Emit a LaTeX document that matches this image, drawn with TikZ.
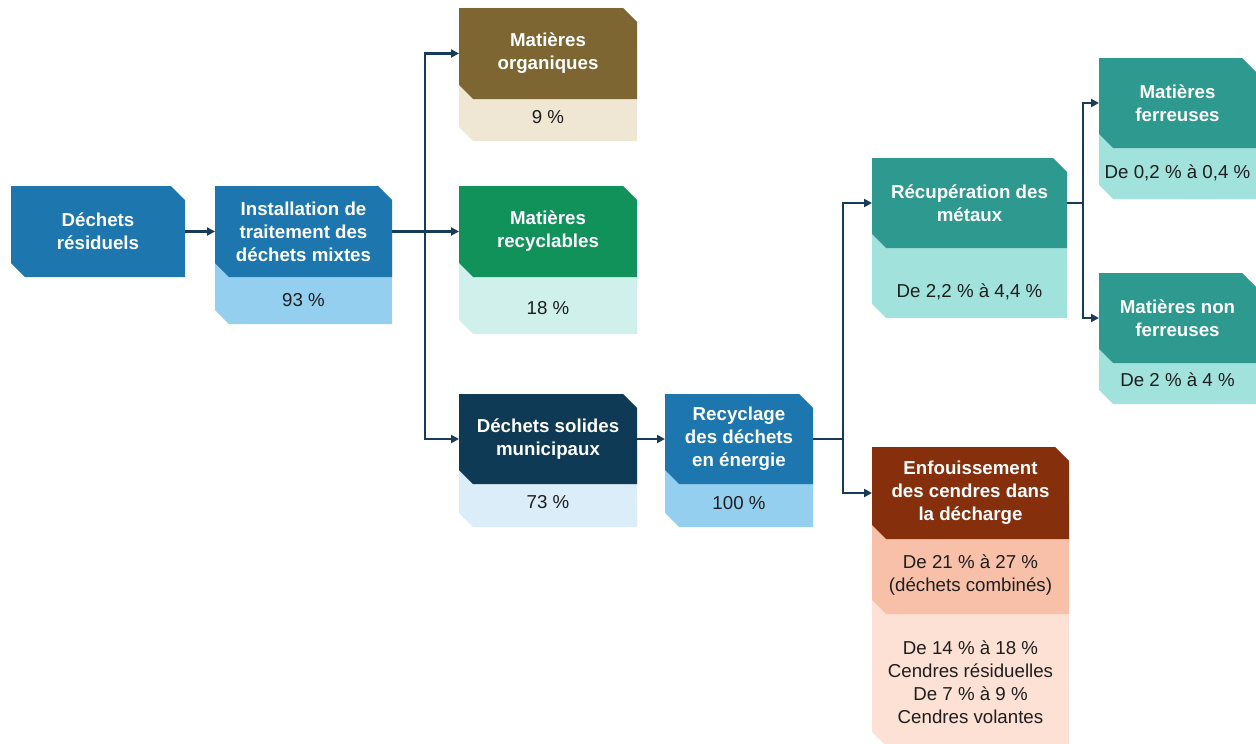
\documentclass[tikz,border=0pt]{standalone}
\usepackage{fontspec}
\setmainfont{Liberation Sans}
\usetikzlibrary{arrows.meta}
\definecolor{cblue}{RGB}{29,119,174}
\definecolor{cbluel}{RGB}{148,207,240}
\definecolor{colive}{RGB}{125,102,50}
\definecolor{colivel}{RGB}{239,230,212}
\definecolor{cgreen}{RGB}{17,146,91}
\definecolor{cgreenl}{RGB}{208,240,236}
\definecolor{cnavy}{RGB}{14,58,85}
\definecolor{cnavyl}{RGB}{218,237,249}
\definecolor{cteal}{RGB}{46,153,142}
\definecolor{ctealel}{RGB}{162,226,221}
\definecolor{cbrown}{RGB}{134,47,12}
\definecolor{cbrownl}{RGB}{248,192,168}
\definecolor{cbrownll}{RGB}{252,225,212}
\definecolor{cline}{RGB}{24,59,90}
\definecolor{ctext}{RGB}{30,30,30}
% both chamfers: top-right and bottom-left
\newcommand\chbox[5]{\fill[#5] (#1,#2) -- ({#3-14},#2) -- (#3,{#2+14}) -- (#3,#4) -- ({#1+14},#4) -- (#1,{#4-14}) -- cycle;}
% bottom-left chamfer only
\newcommand\lobox[5]{\fill[#5] (#1,#2) -- (#3,#2) -- (#3,#4) -- ({#1+14},#4) -- (#1,{#4-14}) -- cycle;}
\tikzset{
  title/.style={text=white, font=\bfseries\fontsize{18.7}{23}\selectfont, align=center, inner sep=0pt, outer sep=0pt},
  val/.style={text=ctext, font=\fontsize{18.7}{23}\selectfont, align=center, inner sep=0pt, outer sep=0pt},
  wire/.style={draw=cline, line width=2.6pt},
  conn/.style={wire, -{Triangle[length=8pt,width=8pt]}},
}
\begin{document}
\begin{tikzpicture}[x=1pt,y=-1pt]
\useasboundingbox (0,0) rectangle (1256,744);
% shapes: light parts first, then dark parts
\chbox{11}{186}{185}{277}{cblue}
\lobox{215}{230}{392}{324}{cbluel}
\chbox{215}{186}{392}{277}{cblue}
\lobox{459}{50}{637}{141}{colivel}
\chbox{459}{8}{637}{99}{colive}
\lobox{459}{230}{637}{334}{cgreenl}
\chbox{459}{186}{637}{277}{cgreen}
\lobox{459}{440}{637}{527}{cnavyl}
\chbox{459}{394}{637}{484}{cnavy}
\lobox{665}{440}{813}{527}{cbluel}
\chbox{665}{394}{813}{484}{cblue}
\lobox{872}{200}{1067}{318}{ctealel}
\chbox{872}{158}{1067}{248}{cteal}
\lobox{1099}{100}{1256}{199}{ctealel}
\chbox{1099}{58}{1256}{148}{cteal}
\lobox{1099}{320}{1256}{404}{ctealel}
\chbox{1099}{273}{1256}{363}{cteal}
\lobox{872}{580}{1069}{746}{cbrownll}
\lobox{872}{500}{1069}{614}{cbrownl}
\chbox{872}{447}{1069}{539}{cbrown}
% title nodes
\node[title, minimum width=174pt, minimum height=91pt] (res) at (98,231.5) {Déchets\\résiduels};
\node[title, minimum width=177pt, minimum height=91pt] (inst) at (303.5,231.5) {Installation de\\traitement des\\déchets mixtes};
\node[title, minimum width=178pt, minimum height=91pt] (org) at (548,53.5) {Matières\\organiques};
\node[title, minimum width=178pt, minimum height=91pt] (recy) at (548,231.5) {Matières\\recyclables};
\node[title, minimum width=178pt, minimum height=90pt] (sol) at (548,439) {Déchets solides\\municipaux};
\node[title, minimum width=148pt, minimum height=90pt] (wte) at (739,439) {Recyclage\\des déchets\\en énergie};
\node[title, minimum width=195pt, minimum height=90pt] (met) at (969.5,203) {Récupération des\\métaux};
\node[title, minimum width=157pt, minimum height=90pt] (fer) at (1177.5,103) {Matières\\ferreuses};
\node[title, minimum width=157pt, minimum height=90pt] (nfer) at (1177.5,318) {Matières non\\ferreuses};
\node[title, minimum width=197pt, minimum height=92pt] (enf) at (970.5,493) {Enfouissement\\des cendres dans\\la décharge};
% value nodes
\node[val] (instv) at (303.5,300) {93 \%};
\node[val] (orgv) at (548,117) {9 \%};
\node[val] (recyv) at (548,308) {18 \%};
\node[val] (solv) at (548,502) {73 \%};
\node[val] (wtev) at (739,503) {100 \%};
\node[val] (metv) at (969.5,292) {De 2,2 \% à 4,4 \%};
\node[val] (ferv) at (1177.5,173) {De 0,2 \% à 0,4 \%};
\node[val] (nferv) at (1177.5,380) {De 2 \% à 4 \%};
\node[val] (enfv1) at (970.5,575) {De 21 \% à 27 \%\\(déchets combinés)};
\node[val] (enfv2) at (970.5,682) {De 14 \% à 18 \%\\Cendres résiduelles\\De 7 \% à 9 \%\\Cendres volantes};
% connectors
\coordinate (j1) at (425,231.5);
\coordinate (j2) at (843,439);
\coordinate (j3) at (1083,203);
\draw[conn] (res.east) -- (inst.west);
\draw[wire] (inst.east) -- (j1);
\draw[conn] (j1) -- (recy.west);
\draw[conn] (j1) |- (org.west);
\draw[conn] (j1) |- (sol.west);
\draw[conn] (sol.east) -- (wte.west);
\draw[wire] (wte.east) -- (j2);
\draw[conn] (j2) |- (met.west);
\draw[conn] (j2) |- (enf.west);
\draw[wire] (met.east) -- (j3);
\draw[conn] (j3) |- (fer.west);
\draw[conn] (j3) |- (nfer.west);
\end{tikzpicture}
\end{document}
